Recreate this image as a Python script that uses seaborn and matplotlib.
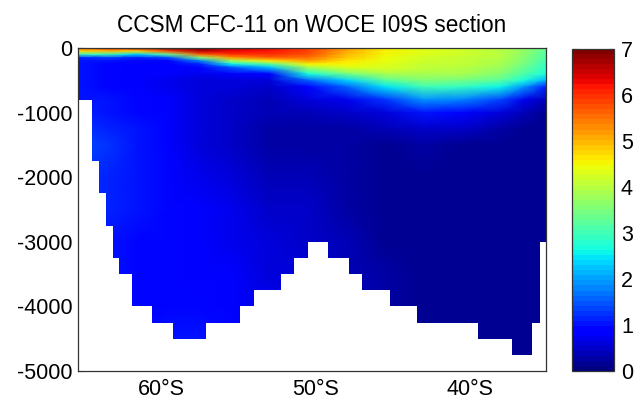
import numpy as np
import matplotlib
matplotlib.use("Agg")
import matplotlib.pyplot as plt
import seaborn as sns

# ---------------- data ----------------
title = "CCSM CFC-11 on WOCE I09S section"

# latitude nodes (degrees, negative = south) of the tracer field
lat_nodes = [-65.37, -63.5, -61.5, -59.5, -57.5, -55.5, -53.0, -50.5,
             -48.0, -45.5, -43.0, -40.5, -38.0, -36.5, -35.08]

# depth nodes (m)
depth_upper = [0, 50, 100, 150, 200, 250, 300, 400, 500, 600, 800, 1000]
depth_deep = [1250, 1500, 2000, 2500, 3000, 3500, 4000, 4500, 5000]

# CFC-11 (pmol/kg), rows = depth_upper, columns = lat_nodes
cfc_upper = [
    [5.5, 6.0, 6.5, 6.9, 7.0, 6.6, 6.3, 5.9, 5.2, 4.6, 4.3, 4.2, 4.0, 3.7, 3.2],
    [4.8, 5.0, 4.8, 5.8, 6.6, 6.3, 6.2, 5.8, 5.1, 4.55, 4.3, 4.2, 4.0, 3.7, 3.2],
    [3.0, 3.0, 2.3, 3.3, 5.6, 6.0, 6.0, 5.7, 5.0, 4.5, 4.3, 4.2, 4.0, 3.65, 3.15],
    [1.2, 1.4, 1.1, 1.5, 3.6, 5.2, 5.6, 5.5, 4.9, 4.45, 4.25, 4.15, 3.95, 3.6, 3.1],
    [1.0, 1.0, 0.9, 0.95, 1.8, 3.8, 4.6, 5.2, 4.7, 4.4, 4.2, 4.1, 3.9, 3.55, 3.05],
    [1.0, 0.95, 0.85, 0.85, 1.1, 2.6, 3.2, 4.5, 4.5, 4.35, 4.15, 4.05, 3.85, 3.45, 2.95],
    [1.0, 0.95, 0.85, 0.8, 0.9, 1.5, 2.2, 3.9, 4.3, 4.3, 4.1, 4.0, 3.8, 3.35, 2.85],
    [1.0, 0.95, 0.85, 0.8, 0.7, 0.8, 0.9, 2.7, 3.4, 3.9, 3.9, 3.85, 3.6, 3.1, 2.65],
    [1.0, 0.95, 0.85, 0.75, 0.65, 0.65, 0.6, 1.6, 2.4, 3.2, 3.5, 3.45, 3.2, 2.7, 2.1],
    [1.0, 0.95, 0.85, 0.75, 0.6, 0.55, 0.5, 0.95, 1.6, 2.5, 3.0, 2.95, 2.6, 1.9, 1.1],
    [1.0, 1.0, 0.9, 0.8, 0.6, 0.5, 0.4, 0.55, 0.75, 1.3, 1.9, 1.85, 1.4, 0.75, 0.4],
    [1.1, 1.05, 0.95, 0.85, 0.6, 0.45, 0.35, 0.4, 0.45, 0.65, 1.0, 0.95, 0.6, 0.35, 0.2],
]

# CFC-11 (pmol/kg), rows = depth_deep, columns = lat_nodes
cfc_deep = [
    [1.3, 1.15, 1.0, 0.85, 0.6, 0.45, 0.3, 0.3, 0.3, 0.35, 0.5, 0.45, 0.3, 0.18, 0.15],
    [1.35, 1.25, 1.05, 0.85, 0.65, 0.5, 0.3, 0.25, 0.25, 0.2, 0.22, 0.2, 0.15, 0.13, 0.12],
    [1.3, 1.2, 1.05, 0.9, 0.75, 0.6, 0.4, 0.35, 0.25, 0.15, 0.15, 0.13, 0.12, 0.12, 0.12],
    [1.2, 1.1, 1.0, 0.9, 0.8, 0.7, 0.5, 0.45, 0.3, 0.2, 0.12, 0.12, 0.12, 0.12, 0.12],
    [1.2, 1.05, 0.95, 0.9, 0.85, 0.75, 0.6, 0.5, 0.35, 0.2, 0.15, 0.13, 0.13, 0.13, 0.13],
    [1.2, 1.0, 0.95, 0.9, 0.85, 0.8, 0.65, 0.55, 0.4, 0.25, 0.15, 0.14, 0.14, 0.14, 0.14],
    [1.2, 1.0, 0.95, 0.95, 0.9, 0.85, 0.7, 0.6, 0.45, 0.3, 0.2, 0.15, 0.15, 0.15, 0.15],
    [1.2, 1.0, 0.95, 1.0, 1.0, 0.9, 0.75, 0.6, 0.45, 0.3, 0.2, 0.18, 0.18, 0.18, 0.18],
    [1.2, 1.0, 0.95, 1.0, 1.0, 0.9, 0.75, 0.6, 0.45, 0.3, 0.2, 0.18, 0.18, 0.18, 0.18],
]

# model bathymetry: column edges (deg) and bottom depth of each column (m)
bathy_lat_edges = [-65.37, -64.47, -64.01, -63.56, -63.11, -62.72, -61.88,
                   -60.58, -59.22, -57.09, -54.89, -53.98, -52.23, -51.39,
                   -50.49, -49.19, -47.83, -46.99, -45.18, -43.43, -39.48,
                   -37.28, -35.99, -35.47, -35.08]
bathy_bottom = [800, 1750, 2250, 2750, 3250, 3500, 4000, 4250, 4500, 4250,
                4000, 3750, 3500, 3250, 3000, 3250, 3500, 3750, 4000, 4250,
                4500, 4750, 4250, 3000]

x_ticks = [-60, -50, -40]
x_ticklabels = ["60°S", "50°S", "40°S"]
y_ticks = [-5000, -4000, -3000, -2000, -1000, 0]
y_ticklabels = ["-5000", "-4000", "-3000", "-2000", "-1000", "0"]
cbar_ticks = [0, 1, 2, 3, 4, 5, 6, 7]
vmin, vmax = 0, 7

# ---------------- plotting ----------------
sns.set_theme(style="white")
plt.rcParams["font.family"] = ["Liberation Sans", "DejaVu Sans"]
FS = 15.5
FS_TITLE = 16.3

W, H = 637, 405
fig = plt.figure(figsize=(W / 100, H / 100), dpi=100)
fig.patch.set_facecolor("white")

ax = fig.add_axes([78 / W, 1 - 371 / H, (546 - 78) / W, (371 - 48) / H])
cax = fig.add_axes([572 / W, 1 - 371 / H, (614 - 572) / W, (371 - 49) / H])

cmap = matplotlib.colormaps["jet"].resampled(64)

depths = np.array(depth_upper + depth_deep, dtype=float)
values = np.array(cfc_upper + cfc_deep, dtype=float)
lats = np.array(lat_nodes, dtype=float)

mesh = ax.pcolormesh(lats, -depths, values, shading="gouraud",
                     cmap=cmap, vmin=vmin, vmax=vmax, rasterized=True)

# mask the sea floor (white, like NaN cells in the original)
bottoms = np.array(bathy_bottom + [bathy_bottom[-1]], dtype=float)
ax.fill_between(bathy_lat_edges, -bottoms, -5200, step="post",
                color="white", lw=0, antialiased=False, zorder=3)

ax.set_xlim(bathy_lat_edges[0], bathy_lat_edges[-1])
ax.set_ylim(-5000, 0)
ax.set_xticks(x_ticks)
ax.set_xticklabels(x_ticklabels)
ax.set_yticks(y_ticks)
ax.set_yticklabels(y_ticklabels)
ax.tick_params(direction="in", length=5, width=0.8, colors="#333333",
               labelcolor="black", labelsize=FS,
               bottom=True, left=True, top=False, right=False)
ax.tick_params(axis="x", pad=6)
ax.tick_params(axis="y", pad=4)
for s in ax.spines.values():
    s.set_visible(True)
    s.set_color("#333333")
    s.set_linewidth(0.9)
    s.set_zorder(5)
ax.set_title(title, fontsize=FS_TITLE, color="black", pad=11.5)

cb = fig.colorbar(mesh, cax=cax, ticks=cbar_ticks)
cb.outline.set_edgecolor("#333333")
cb.outline.set_linewidth(0.9)
cax.tick_params(direction="in", length=4, width=0.8, colors="#333333",
                labelcolor="black", labelsize=FS, pad=5,
                left=True, right=True)
cax.yaxis.set_ticklabels([str(t) for t in cbar_ticks])

fig.savefig("out.png", dpi=100, facecolor="white")
